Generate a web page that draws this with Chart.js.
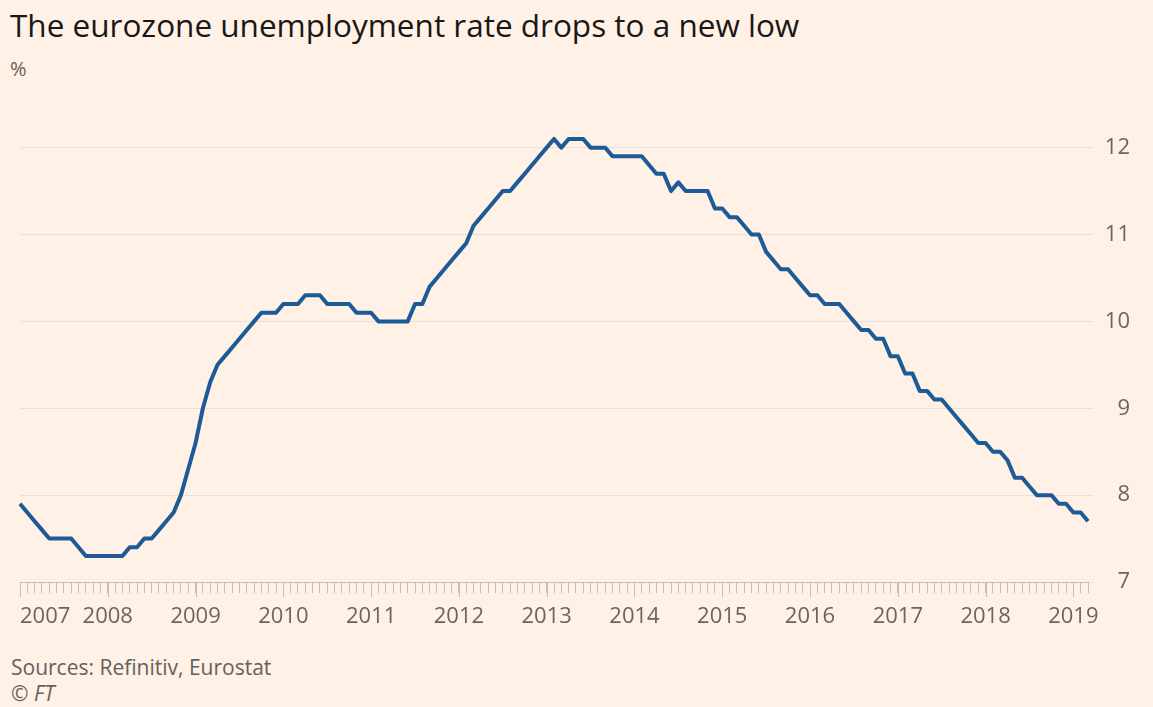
<!DOCTYPE html>
<html>
<head>
<meta charset="utf-8">
<title>Eurozone unemployment</title>
<script src="https://cdn.jsdelivr.net/npm/chart.js@4.4.1/dist/chart.umd.min.js"></script>
<style>
  html, body { margin: 0; padding: 0; background: #fff1e5; }
  body { width: 1153px; height: 707px; position: relative; overflow: hidden; font-family: 'Open Sans', sans-serif; }
  #title { position: absolute; left: 10px; top: 3px; font-size: 31.5px; color: #1a1817; white-space: nowrap; }
  #unit { position: absolute; left: 10px; top: 55px; font-size: 20px; color: #66605c; }
  #chartBox { position: absolute; left: 0; top: 80px; width: 1153px; height: 550px; }
  #source { position: absolute; left: 11px; top: 653px; font-size: 21px; color: #66605c; }
  #credit { position: absolute; left: 11px; top: 679px; font-size: 21px; color: #66605c; font-style: italic; }
</style>
</head>
<body>
<div id="title">The eurozone unemployment rate drops to a new low</div>
<div id="unit">%</div>
<div id="chartBox"><canvas id="rateChart"></canvas></div>
<div id="source">Sources: Refinitiv, Eurostat</div>
<div id="credit">© FT</div>

<script>
// monthly euro area unemployment rate, %, Jan 2007 - Mar 2019
const unemployment = [
    7.9, 7.8, 7.7, 7.6, 7.5, 7.5, 7.5, 7.5, 7.4, 7.3, 7.3, 7.3,            // 2007
    7.3, 7.3, 7.3, 7.4, 7.4, 7.5, 7.5, 7.6, 7.7, 7.8, 8.0, 8.3,            // 2008
    8.6, 9.0, 9.3, 9.5, 9.6, 9.7, 9.8, 9.9, 10.0, 10.1, 10.1, 10.1,        // 2009
    10.2, 10.2, 10.2, 10.3, 10.3, 10.3, 10.2, 10.2, 10.2, 10.2, 10.1, 10.1, // 2010
    10.1, 10.0, 10.0, 10.0, 10.0, 10.0, 10.2, 10.2, 10.4, 10.5, 10.6, 10.7, // 2011
    10.8, 10.9, 11.1, 11.2, 11.3, 11.4, 11.5, 11.5, 11.6, 11.7, 11.8, 11.9, // 2012
    12.0, 12.1, 12.0, 12.1, 12.1, 12.1, 12.0, 12.0, 12.0, 11.9, 11.9, 11.9, // 2013
    11.9, 11.9, 11.8, 11.7, 11.7, 11.5, 11.6, 11.5, 11.5, 11.5, 11.5, 11.3, // 2014
    11.3, 11.2, 11.2, 11.1, 11.0, 11.0, 10.8, 10.7, 10.6, 10.6, 10.5, 10.4, // 2015
    10.3, 10.3, 10.2, 10.2, 10.2, 10.1, 10.0, 9.9, 9.9, 9.8, 9.8, 9.6,     // 2016
    9.6, 9.4, 9.4, 9.2, 9.2, 9.1, 9.1, 9.0, 8.9, 8.8, 8.7, 8.6,            // 2017
    8.6, 8.5, 8.5, 8.4, 8.2, 8.2, 8.1, 8.0, 8.0, 8.0, 7.9, 7.9,            // 2018
    7.8, 7.8, 7.7                                                          // 2019
];
const tickYears = ['2007', '2008', '2009', '2010', '2011', '2012', '2013',
                   '2014', '2015', '2016', '2017', '2018', '2019'];
const monthNames = ['Jan', 'Feb', 'Mar', 'Apr', 'May', 'Jun',
                    'Jul', 'Aug', 'Sep', 'Oct', 'Nov', 'Dec'];
const yTicks = [7, 8, 9, 10, 11, 12];

const months = unemployment.map((_, i) => monthNames[i % 12] + ' ' + tickYears[Math.floor(i / 12)]);

const lineColor = '#1d5a98';
const labelColor = '#6b6561';
const gridColor = '#ece0d4';
const tickColor = '#c8bdb3';
const axisFont = { family: "'Open Sans', sans-serif", size: 22 };

// the January ticks hang a little lower than the monthly ones
const yearTicks = {
    id: 'yearTicks',
    afterDraw(chart) {
        const xs = chart.scales.x;
        const ctx = chart.ctx;
        ctx.save();
        ctx.strokeStyle = tickColor;
        ctx.lineWidth = 1;
        xs.ticks.forEach((t, i) => {
            if (i % 12 !== 0) return;
            const px = Math.round(xs.getPixelForTick(i)) + 0.5;
            ctx.beginPath();
            ctx.moveTo(px, xs.top);
            ctx.lineTo(px, xs.top + 15);
            ctx.stroke();
        });
        ctx.restore();
    }
};

const ctx = document.getElementById('rateChart').getContext('2d');
new Chart(ctx, {
    type: 'line',
    data: {
        labels: months,
        datasets: [{
            data: unemployment,
            borderColor: lineColor,
            borderWidth: 4,
            borderJoinStyle: 'round',
            pointRadius: 0,
            tension: 0,
            clip: false
        }]
    },
    options: {
        responsive: true,
        maintainAspectRatio: false,
        animation: false,
        events: [],
        layout: { padding: { left: 20, right: 23, top: 5, bottom: 5 } },
        plugins: {
            legend: { display: false },
            tooltip: { enabled: false }
        },
        scales: {
            x: {
                type: 'category',
                offset: false,
                grid: { drawOnChartArea: false, drawTicks: true, tickLength: 11, color: tickColor },
                border: { display: true, color: tickColor },
                ticks: {
                    autoSkip: false,
                    maxRotation: 0,
                    align: 'inner',
                    padding: 11,
                    color: labelColor,
                    font: axisFont,
                    callback: (v, i) => (i % 12 === 0 ? tickYears[i / 12] : '')
                },
                afterFit: s => { s.height = 43; }
            },
            y: {
                position: 'right',
                min: yTicks[0],
                max: 12.5,
                afterBuildTicks: s => { s.ticks = yTicks.map(v => ({ value: v })); },
                grid: { color: gridColor, tickLength: 5, drawTicks: true },
                border: { display: false },
                ticks: {
                    crossAlign: 'far',
                    padding: 11,
                    color: labelColor,
                    font: axisFont
                },
                afterFit: s => { s.width = 42; }
            }
        }
    },
    plugins: [yearTicks]
});
</script>
</body>
</html>
